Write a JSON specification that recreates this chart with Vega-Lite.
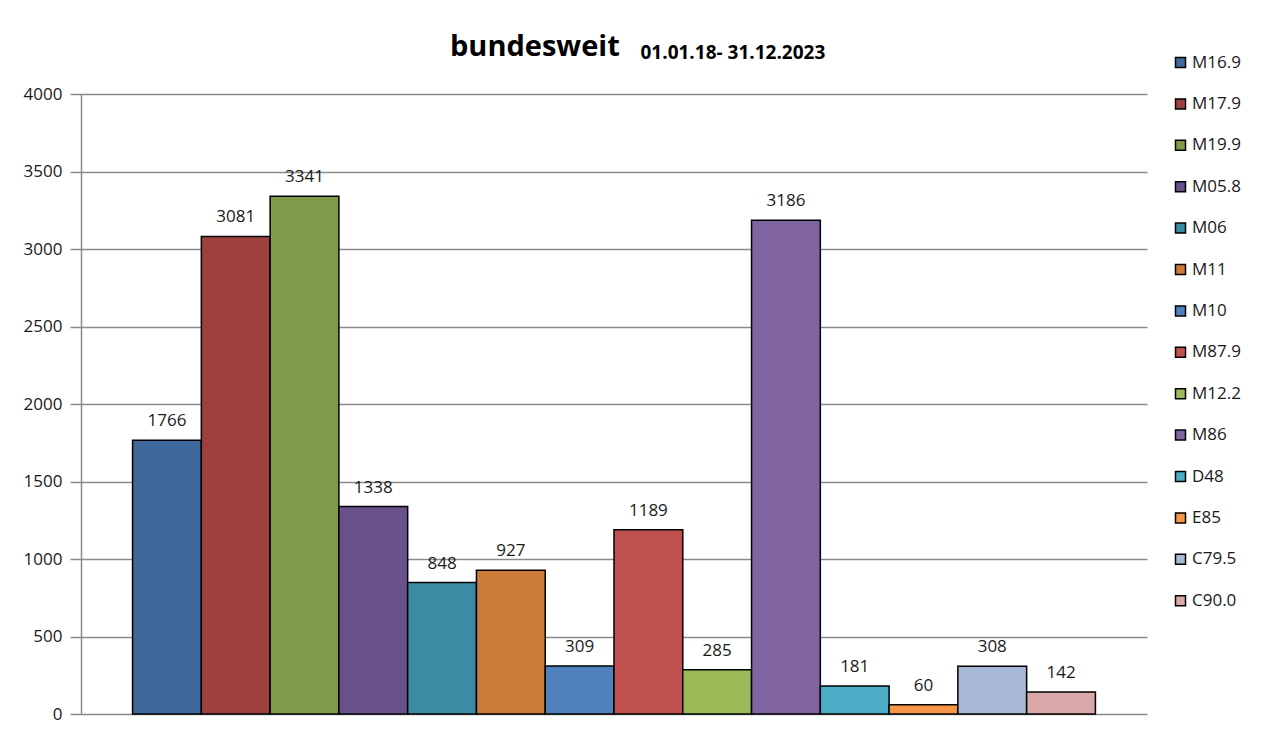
{
  "$schema": "https://vega.github.io/schema/vega-lite/v6.json",
  "autosize": "none",
  "width": 1066,
  "height": 620,
  "padding": {"left": 81, "top": 94, "right": 127, "bottom": 21},
  "background": "white",
  "title": {
    "text": "bundesweit",
    "anchor": "start",
    "frame": "group",
    "dx": 369,
    "dy": 42,
    "font": "Open Sans",
    "fontSize": 29,
    "fontWeight": "bold",
    "color": "#000000",
    "baseline": "alphabetic",
    "offset": 0
  },
  "data": {
    "values": [
      {"code": "M16.9", "count": 1766},
      {"code": "M17.9", "count": 3081},
      {"code": "M19.9", "count": 3341},
      {"code": "M05.8", "count": 1338},
      {"code": "M06", "count": 848},
      {"code": "M11", "count": 927},
      {"code": "M10", "count": 309},
      {"code": "M87.9", "count": 1189},
      {"code": "M12.2", "count": 285},
      {"code": "M86", "count": 3186},
      {"code": "D48", "count": 181},
      {"code": "E85", "count": 60},
      {"code": "C79.5", "count": 308},
      {"code": "C90.0", "count": 142}
    ]
  },
  "encoding": {
    "x": {
      "field": "code",
      "type": "nominal",
      "sort": null,
      "scale": {"paddingInner": 0, "paddingOuter": 0.75},
      "axis": {
        "orient": "top",
        "labels": false,
        "ticks": false,
        "domain": false,
        "grid": false,
        "title": "01.01.18- 31.12.2023",
        "titleX": 559,
        "titleY": -36,
        "titleAlign": "left",
        "titleAnchor": null,
        "titleBaseline": "alphabetic",
        "titleFont": "Open Sans",
        "titleFontSize": 19,
        "titleFontWeight": "bold",
        "titleColor": "#000000"
      }
    },
    "y": {
      "field": "count",
      "type": "quantitative",
      "scale": {"domain": [0, 4000], "nice": false, "zero": true},
      "axis": {
        "values": [0, 500, 1000, 1500, 2000, 2500, 3000, 3500, 4000],
        "format": "d",
        "title": null,
        "grid": true,
        "gridColor": "#8a8a8a",
        "gridWidth": 1.5,
        "domainColor": "#8a8a8a",
        "domainWidth": 1.5,
        "tickColor": "#8a8a8a",
        "tickWidth": 1.5,
        "tickSize": 11,
        "labelPadding": 8,
        "labelFont": "Open Sans",
        "labelFontSize": 17,
        "labelColor": "#1a1a1a"
      }
    }
  },
  "layer": [
    {
      "mark": {"type": "bar", "stroke": "#000000", "strokeWidth": 1.5},
      "encoding": {
        "color": {
          "field": "code",
          "type": "nominal",
          "sort": null,
          "scale": {
            "domain": ["M16.9", "M17.9", "M19.9", "M05.8", "M06", "M11", "M10", "M87.9", "M12.2", "M86", "D48", "E85", "C79.5", "C90.0"],
            "range": ["#3F699C", "#9E413E", "#7F9A48", "#69518A", "#3A8CA4", "#CC7B38", "#4F81BD", "#C0504D", "#9BBB59", "#8064A2", "#4BACC6", "#F79646", "#A9B8D7", "#D8A9A8"]
          },
          "legend": {
            "title": null,
            "orient": "none",
            "legendX": 1091,
            "legendY": -40,
            "symbolType": "square",
            "symbolSize": 100,
            "symbolStrokeColor": "#000000",
            "symbolStrokeWidth": 1.5,
            "symbolOpacity": 1,
            "labelFont": "Open Sans",
            "labelFontSize": 17,
            "labelColor": "#1a1a1a",
            "labelOffset": 3,
            "rowPadding": 23.4
          }
        }
      }
    },
    {
      "mark": {
        "type": "text",
        "baseline": "alphabetic",
        "dy": -14,
        "font": "Open Sans",
        "fontSize": 17,
        "color": "#1a1a1a"
      },
      "encoding": {
        "text": {"field": "count", "type": "quantitative"}
      }
    }
  ],
  "config": {
    "view": {"stroke": null}
  }
}
